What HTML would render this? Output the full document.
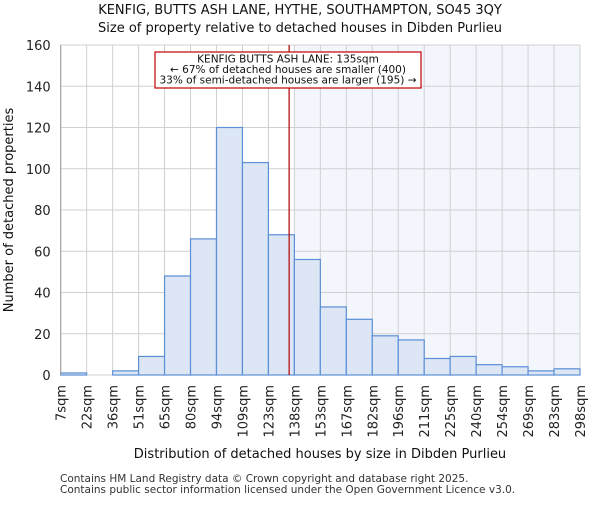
<!DOCTYPE html>
<html><head><meta charset="utf-8"><style>body{margin:0;background:#fff}svg{font-family:"DejaVu Sans","Liberation Sans",sans-serif}</style></head>
<body>
<svg id="c" width="600" height="500"></svg>
<script>
const categories=["7sqm","22sqm","36sqm","51sqm","65sqm","80sqm","94sqm","109sqm","123sqm","138sqm","153sqm","167sqm","182sqm","196sqm","211sqm","225sqm","240sqm","254sqm","269sqm","283sqm","298sqm"];
const counts=[1,0,2,9,48,66,120,103,68,56,33,27,19,17,8,9,5,4,2,3];
const yTicks=[0,20,40,60,80,100,120,140,160];
const markerValue=135;
const NS="http://www.w3.org/2000/svg";
const svg=document.getElementById('c');
const L=60.7,R=580,T=45,B=375,ymax=160;
const bw=(R-L)/counts.length;
const y=v=>B-(v/ymax)*(B-T);
const xe=i=>L+i*bw;
const xv=v=>{const lo=7,hi=298;return L+(v-lo)/(hi-lo)*(R-L);};
function el(t,a,txt){const e=document.createElementNS(NS,t);for(const k in a)e.setAttribute(k,a[k]);if(txt!=null)e.textContent=txt;svg.appendChild(e);return e;}
const hx=xe(Math.ceil((xv(markerValue)-L)/bw));
let e=el('rect',{x:hx,y:T,width:R-hx,height:B-T,fill:'#f4f6fd'});


yTicks.forEach(v=>{const g=el('line',{x1:L,x2:R,y1:y(v),y2:y(v),stroke:'#d0d0d0','stroke-width':1});


const t=el('text',{x:L-10,y:y(v)+5,'text-anchor':'end','font-size':13,fill:'#222'},v);

});
for(let i=0;i<=counts.length;i++){const g=el('line',{x1:xe(i),x2:xe(i),y1:T,y2:B,stroke:'#d0d0d0','stroke-width':1});

}
counts.forEach((v,i)=>{if(v<=0)return;const b=el('rect',{x:xe(i),y:y(v),width:bw,height:B-y(v),fill:'#dce6f5',stroke:'#5b8fd6','stroke-width':1.2});

});
categories.forEach((c,i)=>{const t=el('text',{transform:`translate(${xe(i)+5},${B+10}) rotate(-90)`,'text-anchor':'end','font-size':13,fill:'#222'},c);

});
const mx=xv(markerValue);
e=el('line',{x1:mx,x2:mx,y1:T,y2:B,stroke:'#b00000','stroke-width':1.2});


e=el('rect',{x:155,y:52,width:266,height:36,fill:'#fff',stroke:'#c00000','stroke-width':1.2});


["KENFIG BUTTS ASH LANE: 135sqm","← 67% of detached houses are smaller (400)","33% of semi-detached houses are larger (195) →"].forEach((s,i)=>{const t=el('text',{x:288,y:62.5+i*10.5,'text-anchor':'middle','font-size':10.5,fill:'#111'},s);

});
e=el('line',{x1:L,x2:L,y1:T,y2:B,stroke:'#999'});
e=el('text',{x:300,y:14,'text-anchor':'middle','font-size':13,fill:'#111'},"KENFIG, BUTTS ASH LANE, HYTHE, SOUTHAMPTON, SO45 3QY");

e=el('text',{x:300,y:32,'text-anchor':'middle','font-size':13,fill:'#111'},"Size of property relative to detached houses in Dibden Purlieu");

e=el('text',{x:320,y:458,'text-anchor':'middle','font-size':13,fill:'#111'},"Distribution of detached houses by size in Dibden Purlieu");

e=el('text',{transform:'translate(13,210) rotate(-90)','text-anchor':'middle','font-size':13,fill:'#111'},"Number of detached properties");

e=el('text',{x:60,y:482,'font-size':10.5,fill:'#333'},"Contains HM Land Registry data © Crown copyright and database right 2025.");

e=el('text',{x:60,y:493,'font-size':10.5,fill:'#333'},"Contains public sector information licensed under the Open Government Licence v3.0.");

</script>
</body></html>
